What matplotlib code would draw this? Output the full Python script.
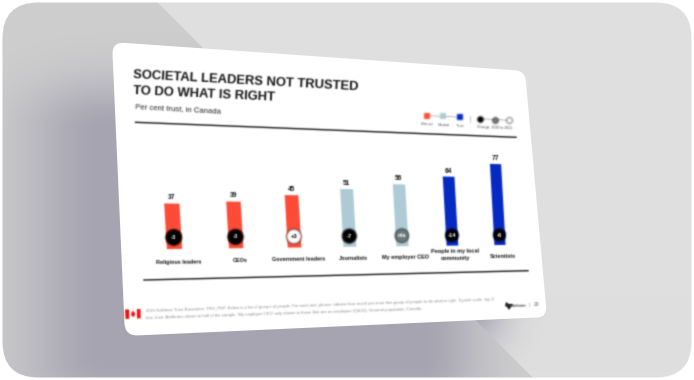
#!/usr/bin/env python3
# -*- coding: utf-8 -*-
import numpy as np
import matplotlib
matplotlib.use("Agg")
import matplotlib.pyplot as plt
from matplotlib.patches import FancyBboxPatch, Polygon
from matplotlib.transforms import Transform

plt.rcParams['font.family'] = ['Liberation Sans', 'DejaVu Sans']

# data
categories = ['Religious leaders', 'CEOs', 'Government leaders', 'Journalists',
              'My employer CEO', 'People in my local\ncommunity', 'Scientists']
trust = [37, 39, 45, 51, 56, 64, 77]
change = ['-3', '-3', '+3', '-7', 'n/a', '-14', '-6']
levels = ['distrust', 'distrust', 'distrust', 'neutral', 'neutral', 'trust', 'trust']
legend_labels = ['Distrust', 'Neutral', 'Trust']

level_color = {'distrust': '#fd4b37', 'neutral': '#aecbd7', 'trust': '#0429c4'}


def homography(src, dst):
    a = []
    b = []
    for (x, y), (u, v) in zip(src, dst):
        a.append([x, y, 1, 0, 0, 0, -u * x, -u * y])
        a.append([0, 0, 0, x, y, 1, -v * x, -v * y])
        b += [u, v]
    h = np.linalg.solve(np.array(a, float), np.array(b, float))
    return np.append(h, 1).reshape(3, 3)


class Tilt(Transform):
    # the slide sits tilted in the picture, so the chart goes through this
    input_dims = 2
    output_dims = 2
    is_separable = False

    def __init__(self, h):
        super().__init__()
        self.h = h

    def transform_non_affine(self, values):
        pts = np.asarray(values, float)
        p = np.c_[pts, np.ones(len(pts))] @ self.h.T
        return p[:, :2] / p[:, 2:]


def soften(im, dpi, sigma=0.7):
    # the reference is a small blurry screenshot
    pad = 4
    im = np.pad(im, [(pad, pad), (pad, pad), (0, 0)])
    k = np.exp(-np.arange(-pad, pad + 1) ** 2 / (2 * sigma ** 2))
    k /= k.sum()
    a = im[..., 3:]
    pm = np.concatenate([im[..., :3] * a, a], axis=2)
    for axis in (0, 1):
        pm = np.apply_along_axis(lambda m: np.convolve(m, k, mode='same'), axis, pm)
    out = pm.copy()
    out[..., :3] = pm[..., :3] / np.maximum(pm[..., 3:], 1e-4)
    return np.clip(out, 0, 1), -pad, -pad


fig = plt.figure(figsize=(6.94, 3.80), dpi=100)
ax = fig.add_axes([0, 0, 1, 1])
ax.set_xlim(0, 694)
ax.set_ylim(380, 0)
ax.autoscale(False)
ax.axis('off')

# backdrop
yy, xx = np.mgrid[0:380, 0:694] + 0.5
dx = np.maximum(105 - xx, 0) / 80 + np.maximum(xx - 420, 0) / 60
dy = np.maximum(130 - yy, 0) / 50 + np.maximum(yy - 360, 0) / 50
shade = np.exp(-(dx ** 2 + dy ** 2))[..., None]
base = np.array([0xce, 0xce, 0xce]) / 255
dark = np.array([0xa6, 0xa4, 0xb1]) / 255
light = np.array([0xdf, 0xdf, 0xdf]) / 255
left = base + (dark - base) * shade
edge = np.clip((yy - xx + 156) / 1.5, 0, 1)[..., None]
glow = np.exp(-(np.maximum(xx - 470, 0) / 38) ** 2) * np.clip((372 - yy) / 55, 0, 1) * np.clip((yy - 295) / 15, 0, 1)
right = light + (np.array([0xa8, 0xa6, 0xb2]) / 255 - light) * glow[..., None]
img = left * edge + right * (1 - edge)
bg = ax.imshow(img, extent=(0, 694, 380, 0), aspect='auto', zorder=0, interpolation='bilinear')
frame = FancyBboxPatch((2.5, 2.5), 689, 375, boxstyle='round,pad=0,rounding_size=36',
                       fc='none', ec='none', transform=ax.transData)
ax.add_patch(frame)
bg.set_clip_path(frame)
ax.set_xlim(0, 694)
ax.set_ylim(380, 0)

# slide
slide_h = homography([(0, 0), (1000, 0), (1000, 600), (0, 600)],
                     [(112, 42), (525, 71), (547, 317), (125, 336)])
slide_tr = Tilt(slide_h) + ax.transData
slide = FancyBboxPatch((0, 0), 1000, 600, boxstyle='round,pad=0,rounding_size=26',
                       fc='white', ec='none', transform=slide_tr, zorder=1)
ax.add_patch(slide)

# chart: x is the category number, y the per cent value
chart_h = homography([(0, 0), (6, 0), (6, 100), (0, 100)],
                     [(174.5, 249), (500, 245), (494.2, 139.8), (167.2, 126)])
chart_tr = Tilt(chart_h) + ax.transData
x = np.arange(len(categories))
blur = []

bars = ax.bar(x, trust, 0.24, color=[level_color[l] for l in levels],
              transform=chart_tr, zorder=2)
blur += list(bars)

fill = ['#6f7c7c' if c == 'n/a' else ('white' if c.startswith('+') else 'black') for c in change]
sizes = (np.linspace(16, 12.5, len(x)) * 0.72) ** 2
dots = ax.scatter(x, [9.5] * len(x), s=sizes, c=fill, edgecolors='black', linewidths=0.5,
                  transform=chart_tr, zorder=3)
blur.append(dots)

for i in x:
    blur.append(ax.text(i, trust[i] + 1.8, str(trust[i]), transform=chart_tr, ha='center', va='bottom',
                        fontsize=4.8, fontweight='bold', color='#111111', zorder=4))
    txt_col = 'black' if change[i].startswith('+') else 'white'
    blur.append(ax.text(i, 9.5, change[i], transform=chart_tr, ha='center', va='center',
                        fontsize=4.2, fontweight='bold', color=txt_col, zorder=4))
    two_lines = '\n' in categories[i]
    blur.append(ax.text(i + 0.05, -8.5 if two_lines else -10.5, categories[i],
                        transform=chart_tr, ha='center', va='center', multialignment='center',
                        fontsize=4, fontweight='bold', color='#111111', rotation=0.6,
                        linespacing=1.45, zorder=4))

# title block
blur.append(ax.text(133, 78, 'SOCIETAL LEADERS NOT TRUSTED', fontsize=9.35, fontweight='bold', color='#111111',
                    rotation=-3.1, rotation_mode='anchor', ha='left', va='baseline', zorder=4))
blur.append(ax.text(133, 94.5, 'TO DO WHAT IS RIGHT', fontsize=9.35, fontweight='bold', color='#111111',
                    rotation=-2.7, rotation_mode='anchor', ha='left', va='baseline', zorder=4))
blur.append(ax.text(135, 108, 'Per cent trust, in Canada', fontsize=5.6, color='#222222',
                    rotation=-3.2, rotation_mode='anchor', ha='left', va='baseline', zorder=4))
blur += ax.plot([135.5, 516], [122.3, 137.3], color='#111111', lw=1, zorder=4)
blur += ax.plot([144, 528], [280, 270.7], color='#111111', lw=1, zorder=4)

# legend
leg_x = [426.7, 443.3, 460]
leg_y = [115.7, 116.3, 117.3]
blur += ax.plot(leg_x, leg_y, color='#888888', lw=0.4, zorder=4)
blur += ax.plot([480, 509], [118.7, 120.3], color='#888888', lw=0.4, zorder=4)
for lx, ly, lab, lev in zip(leg_x, leg_y, legend_labels, ['distrust', 'neutral', 'trust']):
    blur.append(ax.scatter(lx, ly, marker='s', s=14, c=level_color[lev], linewidths=0, zorder=5))
    blur.append(ax.text(lx + 0.5, ly + 8.5, lab, fontsize=2.7, color='#555555', ha='center', va='center',
                        rotation=-1.5, zorder=5))
blur += ax.plot([470.5, 470.5], [115.5, 122], color='#999999', lw=0.4, zorder=4)
for cx, cy, cc in [(480, 118.7, 'black'), (495, 119.7, '#6f7c7c'), (509, 120.3, 'white')]:
    blur.append(ax.scatter(cx, cy, s=18, c=cc, edgecolors='black', linewidths=0.4, zorder=5))
blur.append(ax.text(495, 127.7, 'Change, 2020 to 2021', fontsize=2.5, color='#444444', ha='center', va='center',
                    rotation=-2, zorder=5))

# footer
note1 = ('2021 Edelman Trust Barometer. TRU_PEP. Below is a list of groups of people. For each one, please indicate '
         'how much you trust that group of people to do what is right. 9-point scale; top 4')
note2 = ("box, trust. Attributes shown to half of the sample. 'My employer CEO' only shown to those that are an "
         "employee (Q&31). General population, Canada.")
blur.append(ax.text(146, 312, note1, fontsize=3.05, color='#8c8c8c', rotation=1.9, rotation_mode='anchor',
                    ha='left', va='baseline', zorder=4))
blur.append(ax.text(146, 319, note2, fontsize=3.05, color='#8c8c8c', rotation=1.9, rotation_mode='anchor',
                    ha='left', va='baseline', zorder=4))

# flag and logo
blur.append(ax.add_patch(Polygon([(125, 309.5), (140.5, 309), (140.7, 318.3), (125.5, 319)], fc='white', ec='none', zorder=4)))
blur.append(ax.add_patch(Polygon([(125, 309.5), (129, 309.4), (129.3, 318.8), (125.5, 319)], fc='#ee1111', ec='none', zorder=5)))
blur.append(ax.add_patch(Polygon([(136.8, 309.1), (140.5, 309), (140.7, 318.3), (137, 318.5)], fc='#ee1111', ec='none', zorder=5)))
blur.append(ax.add_patch(Polygon([(133, 310.5), (135.5, 314), (133.2, 317.5), (130.7, 314.2)], fc='#ee1111', ec='none', zorder=5)))
blur.append(ax.add_patch(Polygon([(506, 302), (509, 304), (513, 304), (511, 307), (509, 310), (507, 307), (505, 306)],
                                 fc='#222222', ec='none', zorder=4)))
blur.append(ax.text(518, 305.6, 'Edelman', fontsize=2.9, fontweight='bold', color='#444444', ha='center', va='center', rotation=1.5, zorder=4))
blur.append(ax.text(529, 305, '|', fontsize=3, color='#777777', ha='center', va='center', zorder=4))
blur.append(ax.text(537, 305, '20', fontsize=3.6, color='#555555', ha='center', va='center', zorder=4))

for art in blur:
    art.set_agg_filter(soften)

fig.savefig('out.png', dpi=100, facecolor='white')
